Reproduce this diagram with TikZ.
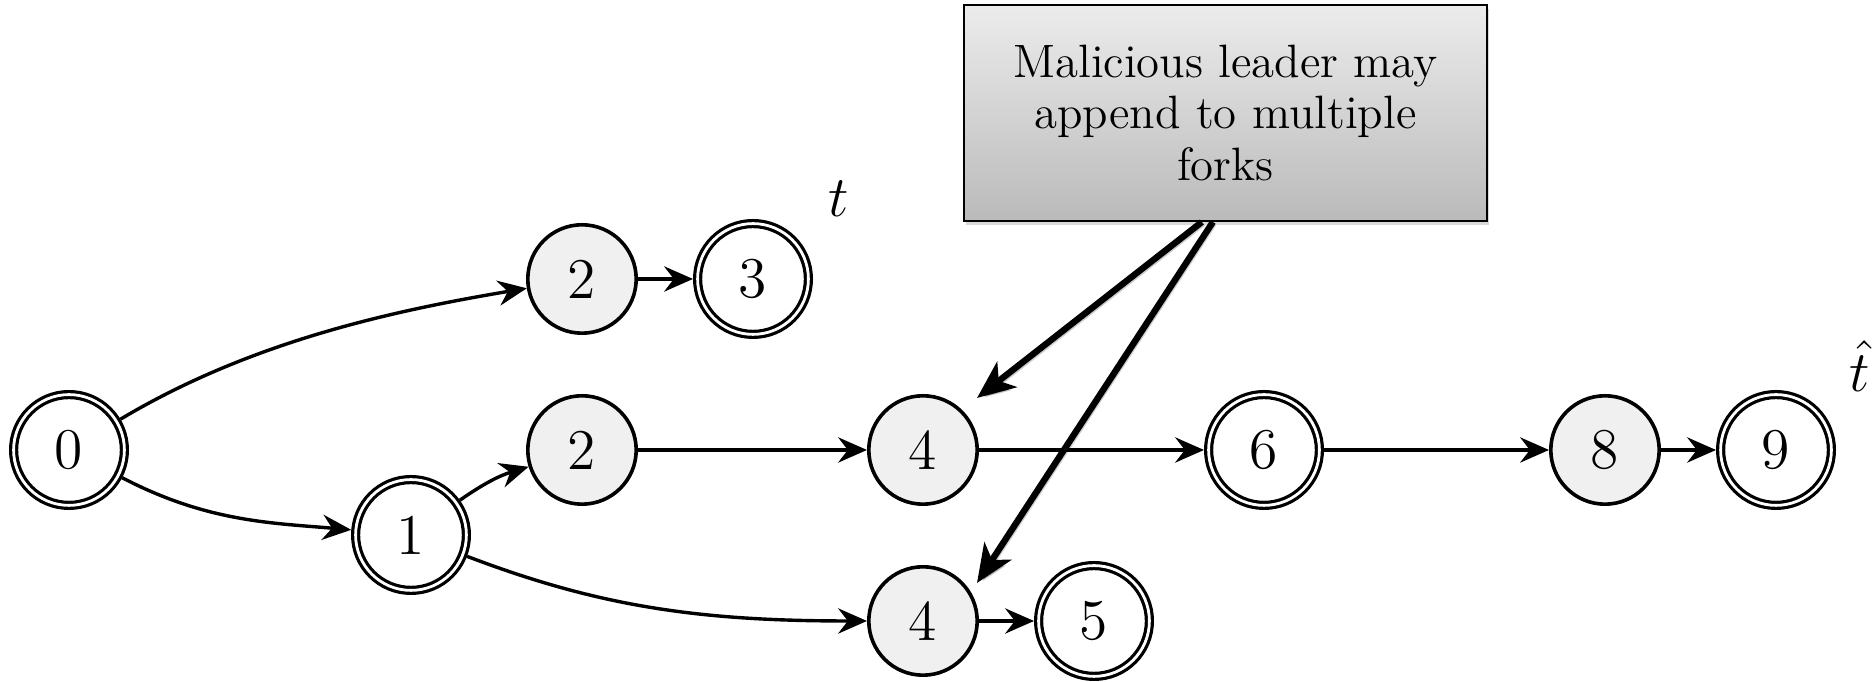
\documentclass[tikz,border=0pt]{standalone}
\usetikzlibrary{arrows.meta,shadows,calc}
\definecolor{blockgray}{HTML}{F0F0F0}
\begin{document}
\begin{tikzpicture}[x=0.25pt,y=0.25pt,
  numfont/.style={font=\fontsize{14.4}{17}\selectfont},
  state/.style={circle, draw, line width=0.9pt, fill=blockgray,
    minimum size=27.1pt, inner sep=0pt, outer sep=0.45pt, numfont},
  final/.style={circle, draw, line width=0.8pt, double, double distance=0.7pt,
    minimum size=27.7pt, inner sep=0pt, outer sep=1.15pt, numfont},
  edge/.style={line width=0.85pt, -{Stealth[length=7.2pt,width=6.3pt,inset=2.4pt]}},
  callout/.style={line width=1.6pt, -{Stealth[length=9.5pt,width=8pt,inset=2.6pt]},
    preaction={draw=black, opacity=0.2, transform canvas={xshift=0.6pt,yshift=-0.8pt}}},
  notebox/.style={draw=black, line width=0.5pt, top color=gray!15, bottom color=gray!54,
    minimum width=130.75pt, minimum height=54pt, inner sep=0pt, align=center,
    font=\fontsize{11.7}{12.9}\selectfont,
    drop shadow={shadow xshift=0.6pt, shadow yshift=-1pt, opacity=0.3}},
  lab/.style={inner sep=0pt, numfont}]
\useasboundingbox (0,0) rectangle (1875,682);

% states
\node[final] (n0) at (69,232) {0};
\node[final] (n1) at (411,147) {1};
\node[state] (a2) at (582,403) {2};
\node[final] (a3) at (753,403) {3};
\node[state] (b2) at (582,232) {2};
\node[state] (b4) at (923,232) {4};
\node[final] (b6) at (1264,232) {6};
\node[state] (b8) at (1605,232) {8};
\node[final] (b9) at (1776,232) {9};
\node[state] (c4) at (923,61) {4};
\node[final] (c5) at (1094,61) {5};

% chain labels
\node[lab] (tlab) at (839,483.5) {$t$};
\node[lab] (thlab) at (1860,316) {$\hat{t}$};

% transitions
\draw[edge] (n0) .. controls (253,342) and (398,372) .. (a2);
\draw[edge] (n0) .. controls (207,160) and (272,159) .. (n1);
\draw[edge] (n1) to[bend left=9] (b2);
\draw[edge] (n1) .. controls (600,75) and (700,61) .. (c4);
\draw[edge] (a2) -- (a3);
\draw[edge] (b2) -- (b4);
\draw[edge] (b4) -- (b6);
\draw[edge] (b6) -- (b8);
\draw[edge] (b8) -- (b9);
\draw[edge] (c4) -- (c5);

% annotation
\node[notebox] (note) at (1225.5,569) {Malicious leader may\\append to multiple\\forks};
\coordinate (s1) at ($(note.south west)!0.455!(note.south east)$);
\coordinate (s2) at ($(note.south west)!0.476!(note.south east)$);
\coordinate (e1) at ($(b4)+(54,52)$);
\coordinate (e2) at ($(c4)+(54,38)$);
\draw[callout] (s1) -- (e1);
\draw[callout] (s2) -- (e2);
\end{tikzpicture}
\end{document}
